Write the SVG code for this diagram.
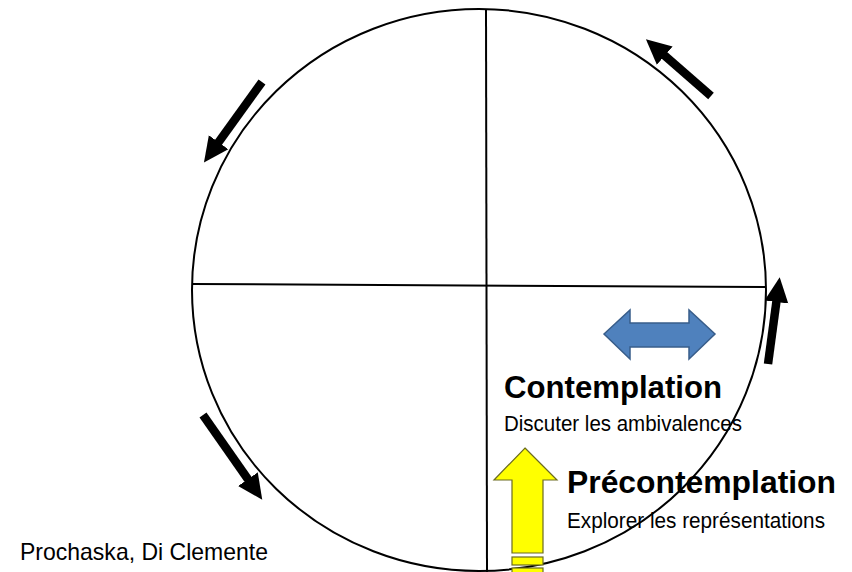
<svg xmlns="http://www.w3.org/2000/svg" width="852" height="572" viewBox="0 0 852 572">
  <style>
    .ln { stroke: #000; stroke-width: 2; fill: none; }
    .cyc { stroke: #000; stroke-width: 8.5; fill: none; marker-end: url(#head); }
    .title { font-family: "Liberation Sans", Arial, sans-serif; font-weight: bold; font-size: 31px; fill: #000; }
    .sub { font-family: "Liberation Sans", Arial, sans-serif; font-size: 22px; fill: #000; }
  </style>
  <defs>
    <marker id="head" markerUnits="userSpaceOnUse" markerWidth="26" markerHeight="26" viewBox="0 0 26 26" refX="1" refY="13" orient="auto">
      <path d="M0,1 L25,13 L0,25 Z" fill="#000"/>
    </marker>
  </defs>
  <rect width="852" height="572" fill="#fff"/>

  <g id="texts">
    <text class="title" x="504" y="398" textLength="218" lengthAdjust="spacingAndGlyphs">Contemplation</text>
    <text class="sub" x="504" y="431" textLength="238" lengthAdjust="spacingAndGlyphs">Discuter les ambivalences</text>
    <text class="title" x="567" y="493" textLength="269" lengthAdjust="spacingAndGlyphs">Précontemplation</text>
    <text class="sub" x="567" y="528" textLength="258" lengthAdjust="spacingAndGlyphs">Explorer les représentations</text>
    <text class="sub" x="20" y="560" style="font-size:24px" textLength="248" lengthAdjust="spacingAndGlyphs">Prochaska, Di Clemente</text>
  </g>

  <g id="wheel">
    <ellipse class="ln" cx="479" cy="290" rx="287" ry="281"/>
    <line class="ln" x1="192" y1="284" x2="766" y2="287"/>
    <line class="ln" x1="486" y1="9" x2="487" y2="572"/>
  </g>

  <g id="blue-arrow">
    <polygon points="604,334 630,310 630,323 689,323 689,310 715,334 689,359 689,347 630,347 630,359" fill="#4F81BD" stroke="#385D8A" stroke-width="1.5"/>
  </g>

  <g id="yellow-arrow">
    <polygon points="525,448 557,480 543,480 543,553 512,553 512,480 494,480" fill="#FFFF00" stroke="#6B6B20" stroke-width="1.2"/>
    <rect x="512" y="557" width="31" height="8" fill="#FFFF00" stroke="#6B6B20" stroke-width="1.2"/>
    <rect x="512" y="568" width="31" height="8" fill="#FFFF00" stroke="#6B6B20" stroke-width="1.2"/>
  </g>

  <g id="connectors">
    <line class="cyc" x1="262" y1="82" x2="218" y2="143"/>
    <line class="cyc" x1="711" y1="96" x2="664" y2="55"/>
    <line class="cyc" x1="768" y1="364" x2="776.5" y2="301"/>
    <line class="cyc" x1="203" y1="415" x2="248.5" y2="480"/>
  </g>
</svg>
